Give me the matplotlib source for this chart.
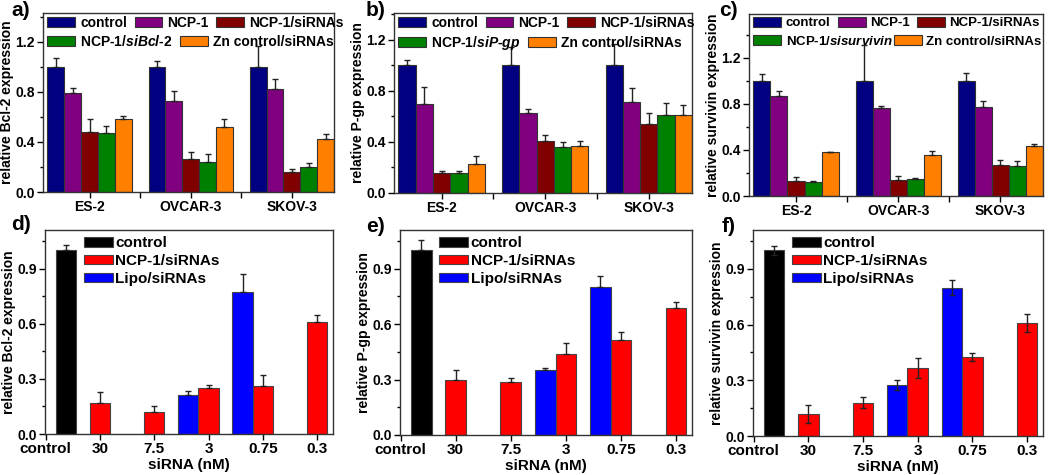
import numpy as np
import matplotlib
matplotlib.use("Agg")
import matplotlib.pyplot as plt
from matplotlib.patches import Patch
from matplotlib.ticker import MultipleLocator, FormatStrFormatter

plt.rcParams['font.family'] = ['Liberation Sans', 'DejaVu Sans']
plt.rcParams['font.weight'] = 'bold'
plt.rcParams['axes.labelweight'] = 'bold'
plt.rcParams['mathtext.fontset'] = 'custom'
plt.rcParams['mathtext.it'] = 'Liberation Sans:italic:bold'
plt.rcParams['mathtext.rm'] = 'Liberation Sans:bold'

# ---- top row data (a-c) ----
cells = ['ES-2', 'OVCAR-3', 'SKOV-3']
top_series = ['control', 'NCP-1', 'NCP-1/siRNAs', 'NCP-1/si', 'Zn control/siRNAs']
top_colors = ['#000080', '#800080', '#800000', '#008000', '#FF8000']

bcl2_vals = [[1.0, 1.0, 1.0], [0.79, 0.73, 0.82], [0.48, 0.26, 0.16],
             [0.47, 0.24, 0.20], [0.58, 0.52, 0.42]]
bcl2_err = [[0.07, 0.05, 0.165], [0.04, 0.08, 0.085], [0.10, 0.06, 0.02],
            [0.055, 0.065, 0.03], [0.03, 0.06, 0.045]]

pgp_vals = [[1.0, 1.0, 1.0], [0.70, 0.63, 0.71], [0.16, 0.41, 0.54],
            [0.16, 0.36, 0.61], [0.23, 0.37, 0.61]]
pgp_err = [[0.04, 0.14, 0.165], [0.13, 0.03, 0.11], [0.015, 0.045, 0.09],
           [0.015, 0.04, 0.095], [0.06, 0.04, 0.08]]

surv_vals = [[1.0, 1.0, 1.0], [0.87, 0.76, 0.77], [0.13, 0.14, 0.27],
             [0.12, 0.15, 0.26], [0.38, 0.36, 0.43]]
surv_err = [[0.06, 0.31, 0.07], [0.045, 0.02, 0.055], [0.035, 0.03, 0.045],
            [0.01, 0.005, 0.045], [0.005, 0.03, 0.02]]

# ---- bottom row data (d-f) ----
doses = ['control', '30', '7.5', '3', '0.75', '0.3']
nan = np.nan
bcl2_ctrl = [1.0, nan, nan, nan, nan, nan]
bcl2_ctrl_err = [0.03, nan, nan, nan, nan, nan]
bcl2_ncp = [nan, 0.17, 0.12, 0.25, 0.26, 0.61]
bcl2_ncp_err = [nan, 0.06, 0.035, 0.015, 0.06, 0.04]
bcl2_lipo = [nan, nan, nan, 0.21, 0.77, nan]
bcl2_lipo_err = [nan, nan, nan, 0.025, 0.10, nan]

pgp_ctrl = [1.0, nan, nan, nan, nan, nan]
pgp_ctrl_err = [0.055, nan, nan, nan, nan, nan]
pgp_ncp = [nan, 0.30, 0.285, 0.44, 0.515, 0.69]
pgp_ncp_err = [nan, 0.05, 0.025, 0.06, 0.045, 0.03]
pgp_lipo = [nan, nan, nan, 0.35, 0.80, nan]
pgp_lipo_err = [nan, nan, nan, 0.015, 0.06, nan]

surv_ctrl = [1.0, nan, nan, nan, nan, nan]
surv_ctrl_err = [0.025, nan, nan, nan, nan, nan]
surv_ncp = [nan, 0.12, 0.18, 0.366, 0.426, 0.61]
surv_ncp_err = [nan, 0.048, 0.03, 0.055, 0.02, 0.05]
surv_lipo = [nan, nan, nan, 0.275, 0.80, nan]
surv_lipo_err = [nan, nan, nan, 0.028, 0.04, nan]

W, H = 1050, 475
fig = plt.figure(figsize=(W / 100, H / 100), dpi=100)


def add_ax(l, t, r, b):
    return fig.add_axes([l / W, 1 - b / H, (r - l) / W, (b - t) / H])


def style(ax):
    for s in ax.spines.values():
        s.set_color('#333333')
        s.set_linewidth(1.0)
    ax.tick_params(direction='out', length=4, width=1, labelsize=10, colors='black', pad=2)
    ax.tick_params(which='minor', direction='out', length=2.5, width=1)
    ax.tick_params(axis='x', which='minor', length=4)


def top_panel(ax, vals, errs, ylabel, si_label, colsp2=0.55, lfs=10):
    w = 1 / 6
    x = np.arange(len(cells))
    for i in range(5):
        off = (i - 2) * w
        ax.bar(x + off, vals[i], w, color=top_colors[i], edgecolor='#333333',
               linewidth=0.8, zorder=2)
        ax.errorbar(x + off, vals[i], yerr=[np.zeros(3), errs[i]], fmt='none',
                    ecolor='#222222', elinewidth=1, capsize=2.5, capthick=1, zorder=3)
    ax.set_xlim(-0.46, 2 + 2.5 / 6)
    ax.set_xticks(x)
    ax.set_xticklabels(cells)
    ax.set_xticks([0.5, 1.5], minor=True)
    ax.yaxis.set_major_locator(MultipleLocator(0.4))
    ax.yaxis.set_minor_locator(MultipleLocator(0.2))
    ax.yaxis.set_major_formatter(FormatStrFormatter('%.1f'))
    ax.set_ylabel(ylabel, fontsize=10, labelpad=1)
    style(ax)
    kw = dict(frameon=False, fontsize=lfs, handlelength=2.0 * 10 / lfs,
              handleheight=0.75 * 10 / lfs, handletextpad=0.35, borderpad=0,
              borderaxespad=0, loc='upper left')
    p = [Patch(facecolor=c, edgecolor='#333333', linewidth=0.8) for c in top_colors]
    leg1 = ax.legend(p[:3], top_series[:3], ncol=3, columnspacing=0.55,
                     bbox_to_anchor=(0.015, 0.985), **kw)
    ax.add_artist(leg1)
    ax.legend(p[3:], [si_label, top_series[4]], ncol=2, columnspacing=colsp2,
              bbox_to_anchor=(0.015, 0.885), **kw)


def bottom_panel(ax, ctrl, ctrl_e, ncp, ncp_e, lipo, lipo_e, ylabel, both=False):
    w = 0.375
    x = np.arange(len(doses))
    series = [(ctrl, ctrl_e, w, 'black', 'control'),
              (ncp, ncp_e, 0, '#FF0000', 'NCP-1/siRNAs'),
              (lipo, lipo_e, -w, '#0000FF', 'Lipo/siRNAs')]
    handles = []
    for v, e, off, c, lab in series:
        v = np.array(v)
        e = np.array(e)
        m = ~np.isnan(v)
        h = ax.bar(x[m] + off, v[m], w, color=c, edgecolor='#444444', linewidth=0.8,
                   zorder=2)
        low = e[m] if both else np.zeros(m.sum())
        ax.errorbar(x[m] + off, v[m], yerr=[low, e[m]], fmt='none', ecolor='#222222',
                    elinewidth=1, capsize=2.5, capthick=1, zorder=3)
        handles.append(h)
    ax.set_xlim(-0.01, 5.29)
    ax.set_ylim(0, 1.11)
    ax.set_xticks(x)
    ax.set_xticklabels(doses)
    ax.yaxis.set_major_locator(MultipleLocator(0.3))
    ax.yaxis.set_minor_locator(MultipleLocator(0.15))
    ax.yaxis.set_major_formatter(FormatStrFormatter('%.1f'))
    ax.set_ylabel(ylabel, fontsize=10, labelpad=1)
    ax.set_xlabel('siRNA (nM)', fontsize=11, labelpad=1)
    style(ax)
    ax.tick_params(axis='x', labelsize=11)
    ax.legend(handles, [s[4] for s in series], frameon=False, fontsize=11,
              loc='upper left', bbox_to_anchor=(0.135, 0.97), handlelength=1.9,
              handleheight=0.6, handletextpad=0.15, labelspacing=0.25,
              borderpad=0, borderaxespad=0)


ax_a = add_ax(43, 13, 334, 192)
top_panel(ax_a, bcl2_vals, bcl2_err, 'relative Bcl-2 expression',
          'NCP-1/$\\mathit{siBcl}$-$\\mathit{2}$')
ax_a.set_ylim(0, 1.43)

ax_b = add_ax(394, 13, 692, 193)
top_panel(ax_b, pgp_vals, pgp_err, 'relative P-gp expression',
          'NCP-1/$\\mathit{siP}$-$\\mathit{gp}$')
ax_b.set_ylim(0, 1.41)

ax_c = add_ax(749, 14, 1043, 196)
top_panel(ax_c, surv_vals, surv_err, 'relative survivin expression',
          'NCP-1/$\\mathit{sisurvivin}$', colsp2=0.1, lfs=9.5)
ax_c.set_ylim(0, 1.58)

ax_d = add_ax(45, 230, 333, 434)
bottom_panel(ax_d, bcl2_ctrl, bcl2_ctrl_err, bcl2_ncp, bcl2_ncp_err, bcl2_lipo,
             bcl2_lipo_err, 'relative Bcl-2 expression')

ax_e = add_ax(400, 230, 692, 435)
bottom_panel(ax_e, pgp_ctrl, pgp_ctrl_err, pgp_ncp, pgp_ncp_err, pgp_lipo,
             pgp_lipo_err, 'relative P-gp expression')

ax_f = add_ax(753, 230, 1043, 436)
bottom_panel(ax_f, surv_ctrl, surv_ctrl_err, surv_ncp, surv_ncp_err, surv_lipo,
             surv_lipo_err, 'relative survivin expression', both=True)

for lab, x, y in [('a)', 11, 10), ('b)', 366, 10), ('c)', 719, 11),
                  ('d)', 11, 224), ('e)', 366, 226), ('f)', 722, 226)]:
    fig.text(x / W, 1 - y / H, lab, fontsize=15, fontweight='bold', va='center', ha='left')

fig.savefig('out.png', dpi=100)
